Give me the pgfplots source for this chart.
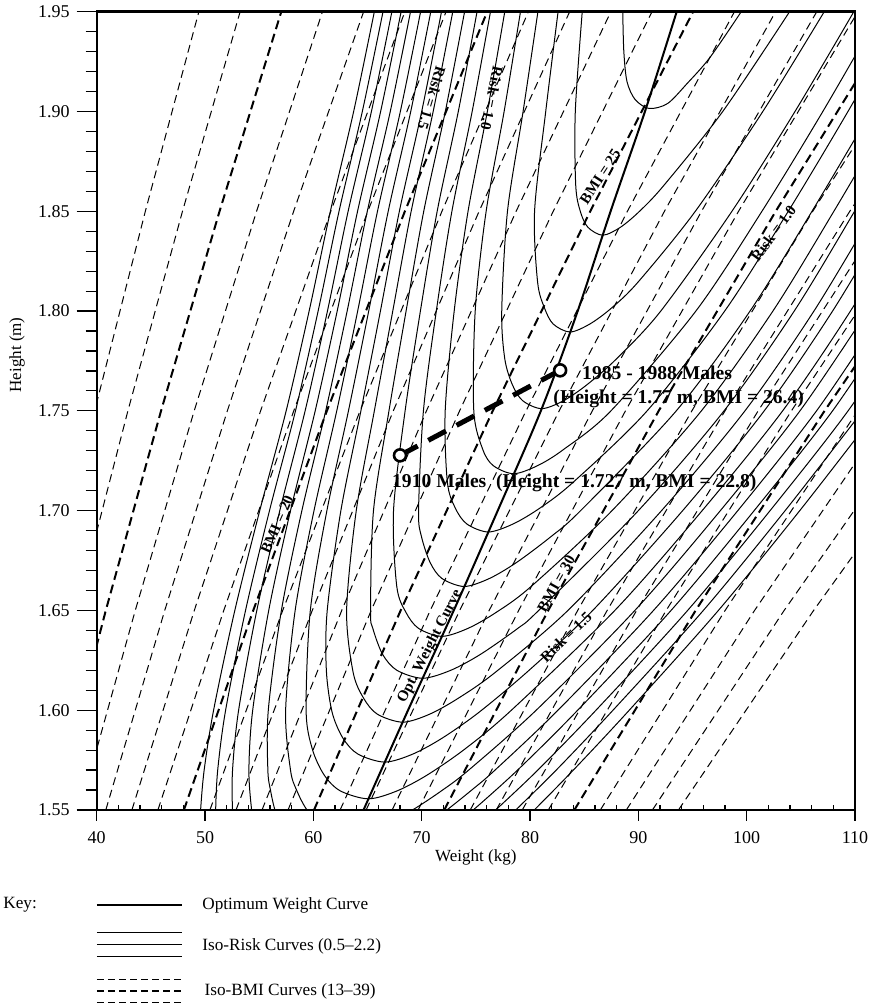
\documentclass[border=0pt]{standalone}
\usepackage{pgfplots}
\pgfplotsset{compat=1.18}
\usepackage{pgfplotstable}
\usepackage{fontspec}
\setmainfont{Liberation Serif}

\pgfplotstableread{
h    b13   b14   b15   b16   b17   b18   b19   b20   b21   b22   b23   b24   b25   b26   b27    b28    b29    b30    b31    b32    b33    b34    b35    b36    b37    b38    b39
1.55 31.23 33.64 36.04 38.44 40.84 43.25 45.65 48.05 50.45 52.86 55.26 57.66 60.06 62.47 64.87  67.27  69.67  72.08  74.48  76.88  79.28  81.69  84.09  86.49  88.89  91.30  93.70
1.65 35.39 38.12 40.84 43.56 46.28 49.01 51.73 54.45 57.17 59.90 62.62 65.34 68.06 70.79 73.51  76.23  78.95  81.68  84.40  87.12  89.84  92.57  95.29  98.01  100.73 103.46 106.18
1.75 39.81 42.88 45.94 49.00 52.06 55.13 58.19 61.25 64.31 67.38 70.44 73.50 76.56 79.63 82.69  85.75  88.81  91.88  94.94  98.00  101.06 104.13 107.19 110.25 113.31 116.38 119.44
1.85 44.49 47.92 51.34 54.76 58.18 61.61 65.03 68.45 71.87 75.30 78.72 82.14 85.56 88.99 92.41  95.83  99.25  102.68 106.10 109.52 112.94 116.37 119.79 123.21 126.63 130.06 133.48
1.95 49.43 53.24 57.04 60.84 64.64 68.45 72.25 76.05 79.85 83.66 87.46 91.26 95.06 98.87 102.67 106.47 110.27 114.08 117.88 121.68 125.48 129.29 133.09 136.89 140.69 144.50 148.30
}\bmi

\begin{document}
\begin{tikzpicture}[x=1pt,y=1pt]
\useasboundingbox (-48.35,-97.5) rectangle (389.65,405);
\begin{axis}[
  at={(0,0)}, anchor=south west,
  scale only axis, width=379.15pt, height=399.15pt,
  xmin=40, xmax=110, ymin=1.55, ymax=1.95,
  xtick={40,50,60,70,80,90,100,110},
  ytick={1.55,1.60,1.65,1.70,1.75,1.80,1.85,1.90,1.95},
  minor x tick num=4, minor y tick num=4,
  tick pos=left, tick align=outside,
  major tick length=10pt, minor tick length=5.5pt,
  x tick style={/pgfplots/major tick length=5.5pt, /pgfplots/minor tick length=2.5pt},
  minor x tick style={yshift=2.5pt},
  axis line style={line width=1.2pt},
  tick style={black, line width=0.6pt},
  /pgf/number format/assume math mode=true,
  yticklabel style={/pgf/number format/.cd, fixed, fixed zerofill, precision=2},
  ticklabel style={font=\fontsize{9}{10}\selectfont},
  xticklabel style={yshift=3pt},
  xlabel={Weight (kg)}, ylabel={Height (m)},
  label style={font=\fontsize{8.5}{10}\selectfont},
  xlabel style={at={(axis description cs:0.5,0)}, anchor=center, yshift=-23.5pt},
  ylabel style={at={(axis description cs:-0.1051,0.57)}, anchor=center},
  risk/.style={black, line width=0.5pt, smooth, tension=0.5},
]
% iso-BMI curves
\pgfplotsinvokeforeach{13,14,16,17,18,19,21,22,23,24,26,27,28,29,31,32,33,34,36,37,38,39}{
  \addplot[black, line width=0.5pt, dash pattern=on 4pt off 2.5pt] table[x=b#1, y=h] {\bmi};
}
\pgfplotsinvokeforeach{15,20,25,30,35}{
  \addplot[black, line width=1pt, dash pattern=on 4.5pt off 2.5pt] table[x=b#1, y=h] {\bmi};
}
% iso-risk curves 0.5 ... 2.2
\addplot[risk] coordinates {(88.56,1.95) (88.66,1.93) (88.95,1.915) (89.70,1.906) (91.00,1.9015) (92.70,1.904) (94.50,1.914) (96.60,1.927) (99.50,1.95)};
\addplot[risk] coordinates {(84.82,1.95) (84.18,1.90) (84.22,1.863) (84.64,1.85) (85.34,1.842) (86.71,1.838) (88.35,1.842) (90.11,1.85) (92.36,1.863) (97.79,1.90) (103.96,1.95)};
\addplot[risk] coordinates {(82.59,1.95) (81.45,1.90) (80.42,1.85) (80.70,1.8145) (81.34,1.8015) (82.14,1.7935) (83.69,1.7895) (85.52,1.7935) (87.52,1.8015) (89.97,1.8145) (95.26,1.85) (101.49,1.90) (107.16,1.95)};
\addplot[risk] coordinates {(80.73,1.95) (79.36,1.90) (77.92,1.85) (77.39,1.80) (77.67,1.7761) (78.37,1.7631) (79.32,1.7551) (81.07,1.7511) (83.10,1.7551) (85.26,1.7631) (87.99,1.7761) (92.07,1.80) (98.64,1.85) (104.46,1.90) (109.89,1.95)};
\addplot[risk] coordinates {(79.12,1.95) (77.61,1.90) (75.95,1.85) (74.94,1.80) (74.81,1.75) (75.65,1.7305) (76.62,1.7225) (78.49,1.7185) (80.68,1.7225) (83.06,1.7305) (87.47,1.75) (95.31,1.80) (101.41,1.85) (107.03,1.90) (112.35,1.95)};
\addplot[risk] coordinates {(77.67,1.95) (76.06,1.90) (74.28,1.85) (73.00,1.80) (72.17,1.75) (72.37,1.7143) (73.10,1.7013) (74.17,1.6933) (76.15,1.6893) (78.43,1.6933) (80.92,1.7013) (84.00,1.7143) (90.81,1.75) (97.97,1.80) (103.84,1.85) (109.35,1.90) (114.60,1.95)};
\addplot[risk] coordinates {(76.35,1.95) (74.66,1.90) (72.79,1.85) (71.35,1.80) (70.16,1.75) (69.71,1.70) (69.98,1.687) (70.78,1.674) (71.87,1.666) (73.93,1.662) (76.25,1.666) (78.75,1.674) (81.94,1.687) (84.67,1.70) (93.50,1.75) (100.31,1.80) (106.03,1.85) (111.48,1.90)};
\addplot[risk] coordinates {(75.11,1.95) (73.38,1.90) (71.43,1.85) (69.88,1.80) (68.47,1.75) (67.40,1.70) (67.70,1.662) (68.55,1.649) (69.71,1.641) (71.86,1.637) (74.27,1.641) (76.87,1.649) (80.10,1.662) (87.57,1.70) (95.82,1.75) (102.42,1.80) (108.05,1.85) (113.47,1.90)};
\addplot[risk] coordinates {(73.96,1.95) (72.18,1.90) (70.19,1.85) (68.56,1.80) (66.98,1.75) (65.55,1.70) (65.28,1.65) (65.49,1.641) (66.39,1.628) (67.71,1.620) (70.09,1.616) (72.68,1.620) (75.43,1.628) (78.87,1.641) (80.80,1.65) (90.00,1.70) (97.91,1.75) (104.39,1.80) (109.96,1.85) (115.34,1.90)};
\addplot[risk] coordinates {(72.87,1.95) (71.06,1.90) (69.03,1.85) (67.33,1.80) (65.63,1.75) (63.96,1.70) (63.07,1.65) (63.67,1.619) (64.64,1.606) (65.91,1.598) (68.25,1.594) (70.73,1.598) (73.38,1.606) (76.80,1.619) (83.50,1.65) (92.14,1.70) (99.84,1.75) (106.21,1.80) (111.74,1.85)};
\addplot[risk] coordinates {(71.83,1.95) (70.00,1.90) (67.94,1.85) (66.19,1.80) (64.39,1.75) (62.54,1.70) (61.28,1.65) (61.20,1.62) (61.73,1.599) (62.73,1.586) (64.12,1.578) (66.60,1.574) (69.17,1.578) (71.89,1.586) (75.30,1.599) (79.91,1.62) (85.79,1.65) (94.09,1.70) (101.62,1.75) (107.93,1.80) (113.45,1.85)};
\addplot[risk] coordinates {(70.84,1.95) (68.99,1.90) (66.91,1.85) (65.11,1.80) (63.24,1.75) (61.25,1.70) (59.72,1.65) (59.33,1.60) (59.90,1.5806) (60.99,1.5676) (62.48,1.5596) (65.09,1.5556) (67.74,1.5596) (70.53,1.5676) (74.00,1.5806) (78.28,1.60) (87.83,1.65) (95.89,1.70) (103.32,1.75) (109.58,1.80) (115.09,1.85)};
\addplot[risk] coordinates {(69.90,1.95) (68.03,1.90) (65.92,1.85) (64.09,1.80) (62.16,1.75) (60.06,1.70) (58.32,1.65) (57.44,1.60) (57.89,1.57) (58.45,1.56) (59.42,1.55) (60.96,1.542) (63.64,1.538) (66.34,1.542) (69.15,1.55) (71.93,1.56) (74.34,1.57) (80.57,1.60) (89.68,1.65) (97.57,1.70) (104.92,1.75) (111.16,1.80)};
\addplot[risk] coordinates {(68.97,1.95) (67.10,1.90) (64.98,1.85) (63.12,1.80) (61.14,1.75) (58.94,1.70) (57.05,1.65) (55.84,1.60) (55.80,1.57) (56.04,1.56) (56.45,1.55) (57.13,1.54)};
\addplot[risk] coordinates {(69.82,1.54) (72.32,1.55) (74.62,1.56) (76.77,1.57) (82.58,1.60) (91.40,1.65) (99.18,1.70) (106.45,1.75) (112.66,1.80)};
\addplot[risk] coordinates {(68.10,1.95) (66.21,1.90) (64.08,1.85) (62.20,1.80) (60.17,1.75) (57.89,1.70) (55.88,1.65) (54.40,1.60) (54.05,1.57) (54.30,1.55) (54.61,1.54)};
\addplot[risk] coordinates {(72.56,1.54) (74.76,1.55) (78.85,1.57) (84.40,1.60) (93.02,1.65) (100.69,1.70) (107.93,1.75) (114.11,1.80)};
\addplot[risk] coordinates {(67.25,1.95) (65.36,1.90) (63.21,1.85) (61.30,1.80) (59.24,1.75) (56.90,1.70) (54.78,1.65) (53.10,1.60) (52.54,1.57) (52.53,1.55) (52.65,1.54)};
\addplot[risk] coordinates {(74.80,1.54) (76.83,1.55) (80.72,1.57) (86.09,1.60) (94.55,1.65) (102.16,1.70) (109.36,1.75) (115.54,1.80)};
\addplot[risk] coordinates {(66.43,1.95) (64.52,1.90) (62.37,1.85) (60.44,1.80) (58.35,1.75) (55.95,1.70) (53.74,1.65) (51.90,1.60) (51.17,1.57) (50.98,1.55) (50.99,1.54)};
\addplot[risk] coordinates {(76.75,1.54) (78.68,1.55) (82.42,1.57) (87.66,1.60) (96.00,1.65) (103.55,1.70) (110.71,1.75)};
\addplot[risk] coordinates {(65.63,1.95) (63.72,1.90) (61.57,1.85) (59.61,1.80) (57.49,1.75) (55.05,1.70) (52.75,1.65) (50.79,1.60) (49.92,1.57) (49.59,1.55) (49.51,1.54)};
\addplot[risk] coordinates {(78.52,1.54) (80.39,1.55) (84.00,1.57) (89.16,1.60) (97.39,1.65) (104.90,1.70) (112.05,1.75)};
% optimum weight curve
\addplot[black, line width=1pt, smooth] coordinates {(64.63,1.55) (68.74,1.60) (72.96,1.65) (77.02,1.70) (81.00,1.75) (84.40,1.80) (87.44,1.85) (90.61,1.90) (93.54,1.95)};
% data
\addplot[black, line width=2.5pt, dash pattern=on 10pt off 6pt] coordinates {(68.0,1.7277) (82.78,1.7703)};
\addplot[only marks, mark=*, mark size=3pt, mark options={fill=white, draw=black, line width=1.3pt}] coordinates {(68.0,1.7277) (82.78,1.7703)};

\node[font=\bfseries\fontsize{9.8}{11}\selectfont, anchor=west, inner sep=0pt] at (axis cs:84.78,1.7690) {1985 - 1988 Males};
\node[font=\bfseries\fontsize{9.8}{11}\selectfont, anchor=west, inner sep=0pt] at (axis cs:82.13,1.7562) {(Height = 1.77 m, BMI = 26.4)};
\node[font=\bfseries\fontsize{9.8}{11}\selectfont, anchor=west, inner sep=0pt] at (axis cs:67.24,1.7140) {1910 Males\ \ (Height = 1.727 m, BMI = 22.8)};

\tikzset{clab/.style={font=\bfseries\fontsize{7.6}{9}\selectfont, inner sep=0.3pt}}
\node[clab, rotate=-106.6] at (axis cs:70.93,1.9066) {Risk = 1.5};
\node[clab, rotate=-101.3] at (axis cs:76.47,1.9066) {Risk = 1.0};
\node[clab, rotate=57.1] at (axis cs:86.47,1.8673) {BMI = 25};
\node[clab, rotate=53.6] at (axis cs:102.48,1.8389) {Risk = 1.0};
\node[clab, rotate=66.5] at (axis cs:56.65,1.6931) {BMI = 20};
\node[clab, rotate=60.8] at (axis cs:82.41,1.6633) {BMI = 30};
\node[clab, rotate=44] at (axis cs:83.32,1.6366) {Risk = 1.5};
\node[clab, rotate=63] at (axis cs:70.78,1.632) {Opt. Weight Curve};
\end{axis}
% key
\node[anchor=west, inner sep=0pt, font=\fontsize{8.6}{10}\selectfont] at (-46.85,-47.5) {Key:};
\draw[line width=1pt] (0.15,-47.5) -- (42.65,-47.5);
\draw[line width=0.5pt] (0.15,-61) -- (42.65,-61);
\draw[line width=0.5pt] (0.15,-67) -- (42.65,-67);
\draw[line width=0.5pt] (0.15,-73) -- (42.65,-73);
\draw[line width=0.5pt, dash pattern=on 3.5pt off 2pt] (0.15,-84.5) -- (42.65,-84.5);
\draw[line width=0.8pt, dash pattern=on 3.5pt off 2pt] (0.15,-90.5) -- (42.65,-90.5);
\draw[line width=0.5pt, dash pattern=on 3.5pt off 2pt] (0.15,-96) -- (42.65,-96);
\node[anchor=west, inner sep=0pt, font=\fontsize{8.6}{10}\selectfont] at (52.65,-47.5) {Optimum Weight Curve};
\node[anchor=west, inner sep=0pt, font=\fontsize{8.6}{10}\selectfont] at (52.65,-68) {Iso-Risk Curves (0.5\textendash 2.2)};
\node[anchor=west, inner sep=0pt, font=\fontsize{8.6}{10}\selectfont] at (53.8,-90.5) {Iso-BMI Curves (13\textendash 39)};
\end{tikzpicture}
\end{document}
